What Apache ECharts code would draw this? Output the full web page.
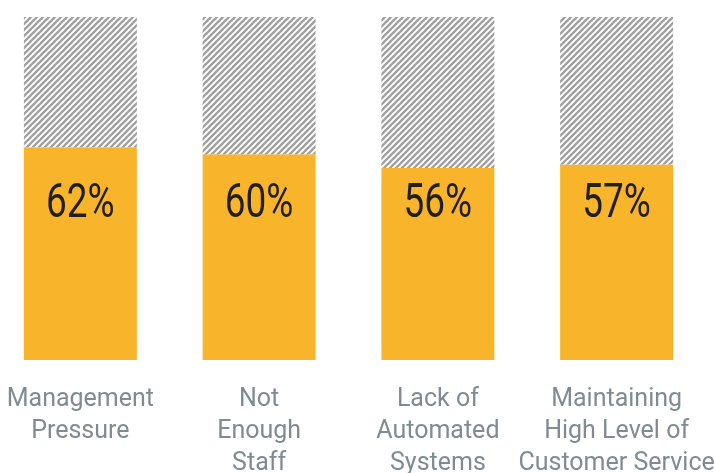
<!DOCTYPE html>
<html>
<head>
<meta charset="utf-8">
<script src="https://cdn.jsdelivr.net/npm/echarts@6/dist/echarts.min.js"></script>
<style>
  html, body { margin: 0; padding: 0; background: #fff; }
  #main { width: 715px; height: 473px; }
</style>
</head>
<body>
<div id="main"></div>
<script>
var categories = ['Management\nPressure', 'Not\nEnough\nStaff', 'Lack of\nAutomated\nSystems', 'Maintaining\nHigh Level of\nCustomer Service'];
var agreeValues = [62, 60, 56, 57];
var restValues = [38, 40, 44, 43];
var labelLevel = 45.3; // height (in %) where the value labels sit

// diagonal hatch for the remainder part
function makeHatch() {
    var c = document.createElement('canvas');
    c.width = 6;
    c.height = 6;
    var ctx = c.getContext('2d');
    ctx.fillStyle = '#fff';
    ctx.fillRect(0, 0, 6, 6);
    ctx.strokeStyle = '#a0a0a0';
    ctx.lineWidth = 2.3;
    ctx.beginPath();
    ctx.moveTo(-1, 7); ctx.lineTo(7, -1);
    ctx.moveTo(-4, 4); ctx.lineTo(4, -4);
    ctx.moveTo(2, 10); ctx.lineTo(10, 2);
    ctx.stroke();
    return c;
}

var myChart = echarts.init(document.getElementById('main'));

var option = {
    animation: false,
    grid: {
        left: -9,
        right: 9,
        top: 17,
        bottom: 113,
        outerBoundsMode: 'none'
    },
    xAxis: {
        type: 'category',
        data: categories,
        axisLine: { show: false },
        axisTick: { show: false },
        axisLabel: {
            interval: 0,
            margin: 24,
            color: '#808b91',
            fontSize: 25,
            lineHeight: 32,
            fontFamily: 'Roboto, sans-serif'
        }
    },
    yAxis: {
        type: 'value',
        min: 0,
        max: 100,
        show: false
    },
    series: [
        {
            name: 'agree',
            type: 'bar',
            stack: 'total',
            barWidth: 113,
            data: agreeValues,
            itemStyle: { color: '#f8b52c' }
        },
        {
            name: 'rest',
            type: 'bar',
            stack: 'total',
            barWidth: 113,
            data: restValues,
            itemStyle: { color: { image: makeHatch(), repeat: 'repeat' } }
        },
        {
            // percentage labels, slightly condensed like the original typeface
            name: 'labels',
            type: 'custom',
            z: 10,
            data: agreeValues.map(function (v, i) { return [i, labelLevel, v]; }),
            renderItem: function (params, api) {
                var pt = api.coord([api.value(0), api.value(1)]);
                return {
                    type: 'text',
                    x: pt[0],
                    y: pt[1],
                    scaleX: 0.77,
                    style: {
                        text: api.value(2) + '%',
                        fill: '#231f20',
                        font: '48px Roboto, sans-serif',
                        textAlign: 'center',
                        textVerticalAlign: 'middle'
                    }
                };
            }
        }
    ]
};

myChart.setOption(option);
</script>
</body>
</html>
